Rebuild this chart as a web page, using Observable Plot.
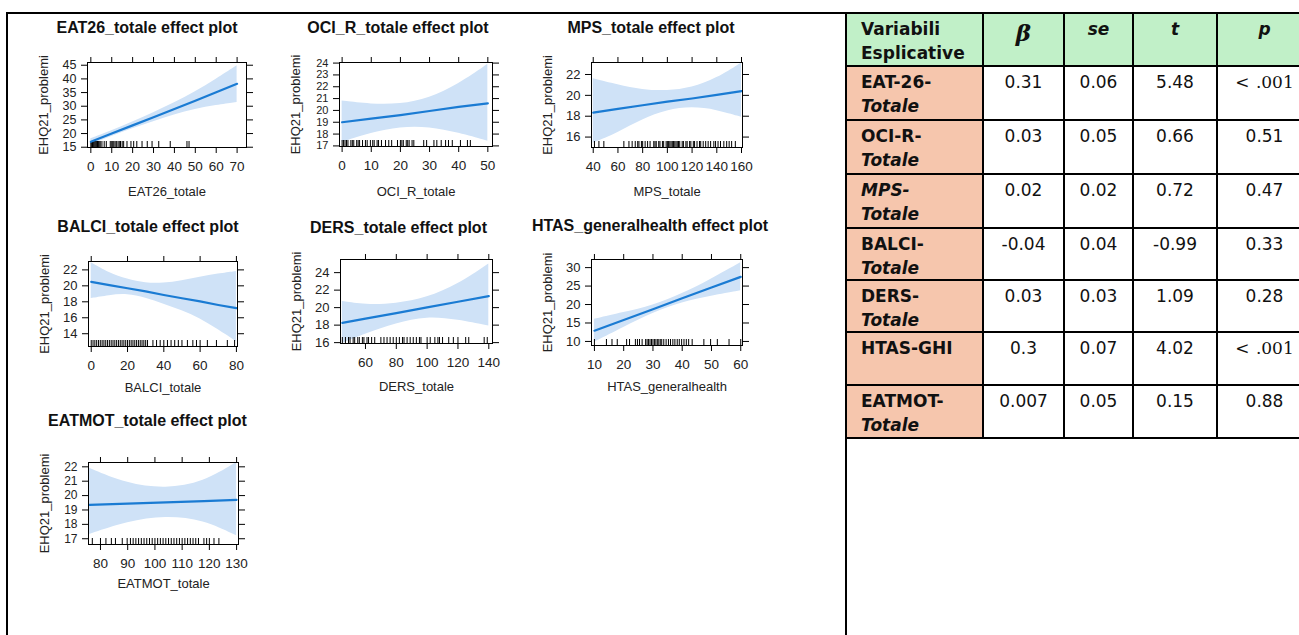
<!DOCTYPE html>
<html>
<head>
<meta charset="utf-8">
<script src="https://cdn.jsdelivr.net/npm/d3@7"></script>
<script src="https://cdn.jsdelivr.net/npm/@observablehq/plot@0.6"></script>
<style>
  html, body { margin: 0; padding: 0; background: #fff; }
  body { width: 1299px; height: 635px; overflow: hidden; position: relative; font-family: "Liberation Sans", Arial, sans-serif; }
  #frameTop { position: absolute; left: 6px; top: 12px; width: 1400px; height: 0; border-top: 2px solid #000; }
  #frameLeft { position: absolute; left: 6px; top: 12px; width: 0; height: 700px; border-left: 2px solid #000; }
  #frameMid { position: absolute; left: 845px; top: 12px; width: 0; height: 700px; border-left: 2px solid #000; }
  #tbl { position: absolute; left: 845px; top: 12px; border-collapse: collapse; table-layout: fixed; width: 466px;
         font-family: "DejaVu Sans", sans-serif; font-size: 17px; line-height: 24px; color: #111; }
  #tbl td { border: 2px solid #000; vertical-align: top; text-align: center; padding: 1px 0 0 0; overflow: hidden; }
  #tbl td > div { position: relative; top: 2px; }
  #tbl td.lab { text-align: left; padding-left: 14px; font-weight: bold; background: #f6c6ad; }
  #tbl tr.head td { background: #c1f0c8; font-weight: bold; }
  #tbl td.beta { font-family: "DejaVu Serif", serif; font-style: italic; font-size: 23px; padding-top: 5px; }
  #tbl td.it { font-style: italic; }
  .lt { font-family: "DejaVu Serif", serif; word-spacing: 1px; }
</style>
</head>
<body>
<div id="frameTop"></div>
<div id="frameLeft"></div>
<div id="frameMid"></div>
<table id="tbl"></table>
<script>
// ---------- Effect plot data ----------
const eatX   = [0, 10, 20, 30, 40, 50, 60, 70];
const eatFit = [17.0, 20.0, 23.0, 26.0, 29.0, 32.0, 35.1, 38.2];
const eatLo  = [15.9, 19.0, 21.8, 24.4, 26.8, 28.9, 30.3, 31.4];
const eatHi  = [18.1, 21.0, 24.2, 27.6, 31.2, 35.2, 39.8, 44.8];
const eatRug = [0, 0.4, 0.8, 1.2, 1.6, 2, 2.4, 2.8, 3.2, 3.6, 4, 4.5, 5.3, 6.4, 7.4, 9.3, 10, 10.5, 11, 11.6, 12.2, 13, 13.6, 14.2, 15, 15.7, 17.3, 19.2, 20.5, 22, 24.5, 27, 29.3, 32.5, 38, 46, 47];
const eatXTicks = [0, 10, 20, 30, 40, 50, 60, 70];
const eatYTicks = [15, 20, 25, 30, 35, 40, 45];

const ociX   = [0, 10, 20, 30, 40, 50];
const ociFit = [19.0, 19.3, 19.6, 19.95, 20.3, 20.6];
const ociLo  = [17.3, 18.1, 18.6, 18.6, 18.1, 17.4];
const ociHi  = [20.8, 20.5, 20.5, 21.0, 22.2, 23.9];
const ociRug = [0, 0.5, 1, 1.5, 2, 3, 3.5, 4, 5, 5.5, 6, 7, 8, 8.6, 9.7, 10.5, 11, 12, 12.5, 13.5, 14.9, 16, 17, 19, 20, 20.5, 21, 22, 22.5, 23, 24, 24.6, 28, 29, 31.5, 32.5, 34, 35.5, 36.5, 37.8, 40.6, 43, 44];
const ociXTicks = [0, 10, 20, 30, 40, 50];
const ociYTicks = [17, 18, 19, 20, 21, 22, 23, 24];

const mpsX   = [40, 60, 80, 100, 120, 140, 160];
const mpsFit = [18.35, 18.7, 19.05, 19.4, 19.7, 20.05, 20.4];
const mpsLo  = [15.4, 16.4, 17.7, 18.6, 18.9, 18.6, 17.9];
const mpsHi  = [21.6, 21.0, 20.5, 20.4, 20.7, 21.6, 23.1];
const mpsRug = [41, 44.6, 48.6, 64.8, 68.9, 71.5, 74, 76, 77, 79, 80, 82, 84, 86, 89, 90, 91, 93, 94, 96, 97, 99, 100, 101, 102, 103, 104, 105, 106, 107, 108, 109, 110, 112, 113, 115, 116, 118, 119, 121, 122, 124, 126, 127, 129, 131, 133, 135, 137.6, 139, 141, 143, 145.7, 148, 150, 152, 155];
const mpsXTicks = [40, 60, 80, 100, 120, 140, 160];
const mpsYTicks = [16, 18, 20, 22];

const balX   = [0, 10, 20, 30, 40, 50, 60, 70, 80];
const balFit = [20.5, 20.1, 19.7, 19.3, 18.85, 18.45, 18.05, 17.6, 17.2];
const balLo  = [18.4, 18.8, 19.0, 18.5, 17.7, 16.9, 15.9, 14.5, 13.0];
const balHi  = [22.9, 21.6, 20.8, 20.3, 20.3, 20.6, 21.1, 21.5, 21.8];
const balRug = [0, 1, 2, 3, 4, 5, 6, 7, 8, 9, 10, 11, 12, 13, 14, 15, 16, 17, 18, 19, 20, 21, 22, 23, 24, 25, 26, 27, 28, 29, 30, 31, 34, 36, 38, 40, 42, 44, 46, 48, 50, 53, 56, 58, 60, 64, 69, 75, 79];
const balXTicks = [0, 20, 40, 60, 80];
const balYTicks = [14, 16, 18, 20, 22];

const derX   = [45, 60, 80, 100, 120, 140];
const derFit = [18.26, 18.74, 19.38, 20.03, 20.67, 21.32];
const derLo  = [15.9, 17.0, 18.2, 19.0, 18.6, 17.9];
const derHi  = [20.7, 20.3, 20.4, 21.1, 22.6, 25.0];
const derRug = [45, 47, 49, 50, 52, 53, 55, 56, 58, 59, 61, 62, 64, 66, 70, 72, 74, 76, 78, 80, 82, 84, 85, 87, 89, 91, 93, 95, 96, 100, 102, 105, 107, 108, 110, 114, 117, 120, 125, 127, 137, 139];
const derXTicks = [60, 80, 100, 120, 140];
const derYTicks = [16, 18, 20, 22, 24];

const htaX   = [10, 20, 30, 40, 50, 60];
const htaFit = [12.9, 15.8, 18.7, 21.7, 24.6, 27.5];
const htaLo  = [9.8, 13.8, 17.8, 20.6, 22.3, 23.7];
const htaHi  = [16.0, 17.8, 19.7, 22.8, 26.9, 31.3];
const htaRug = [10, 14.1, 16, 17.8, 21, 22, 24, 24.7, 25.4, 26.3, 27.5, 28, 28.5, 29, 29.5, 30, 30.5, 31, 31.5, 32, 32.5, 33, 33.7, 34.5, 35.3, 36, 36.8, 37.5, 38.3, 39, 39.8, 40.6, 41.4, 42.2, 43.4, 47.4, 49.7, 52, 56, 60];
const htaXTicks = [10, 20, 30, 40, 50, 60];
const htaYTicks = [10, 15, 20, 25, 30];

const motX   = [76, 90, 104, 118, 130];
const motFit = [19.35, 19.44, 19.53, 19.62, 19.7];
const motLo  = [17.3, 18.2, 18.6, 18.3, 17.2];
const motHi  = [21.9, 20.8, 20.45, 20.9, 22.3];
const motRug = [77, 80, 82, 84, 85.5, 88, 89.8, 91, 92, 93, 94, 95, 96, 97, 98, 99, 100, 101, 102, 103, 104, 105, 106, 107, 108, 109, 110, 111, 112, 113, 114, 115, 116, 118, 119, 120, 121.7, 123.5];
const motXTicks = [80, 90, 100, 110, 120, 130];
const motYTicks = [17, 18, 19, 20, 21, 22];

// ---------- Table data ----------
const tableHeader = ["Variabili|Esplicative", "β", "se", "t", "p"];
const rowNames  = ["EAT-26-", "OCI-R-", "MPS-", "BALCI-", "DERS-", "HTAS-GHI", "EATMOT-"];
const rowSuffix = ["Totale", "Totale", "Totale", "Totale", "Totale", "", "Totale"];
const betas = ["0.31", "0.03", "0.02", "-0.04", "0.03", "0.3", "0.007"];
const ses   = ["0.06", "0.05", "0.02", "0.04", "0.03", "0.07", "0.05"];
const tvals = ["5.48", "0.66", "0.72", "-0.99", "1.09", "4.02", "0.15"];
const pvals = ["< .001", "0.51", "0.47", "0.33", "0.28", "< .001", "0.88"];

// ---------- Layout (panel boxes in page pixels) ----------
const plots = [
  {title: "EAT26_totale effect plot", xLabel: "EAT26_totale", x: eatX, fit: eatFit, lo: eatLo, hi: eatHi, rug: eatRug, xTicks: eatXTicks, yTicks: eatYTicks,
   xDomain: [-1.6, 74.5], yDomain: [14.9, 46.0], panel: [87, 62, 246, 147], tdx: -20, tdy: -35, ldy: 44, yfs: 12.5},
  {title: "OCI_R_totale effect plot", xLabel: "OCI_R_totale", x: ociX, fit: ociFit, lo: ociLo, hi: ociHi, rug: ociRug, xTicks: ociXTicks, yTicks: ociYTicks,
   xDomain: [-0.9, 51.6], yDomain: [16.95, 24.05], panel: [339, 62, 492, 146], tdx: -18, tdy: -35, ldy: 45, yfs: 11},
  {title: "MPS_totale effect plot", xLabel: "MPS_totale", x: mpsX, fit: mpsFit, lo: mpsLo, hi: mpsHi, rug: mpsRug, xTicks: mpsXTicks, yTicks: mpsYTicks,
   xDomain: [38.6, 160.8], yDomain: [15.0, 23.15], panel: [591, 62, 742, 147], tdx: -16, tdy: -35, ldy: 44, yfs: 13},
  {title: "BALCI_totale effect plot", xLabel: "BALCI_totale", x: balX, fit: balFit, lo: balLo, hi: balHi, rug: balRug, xTicks: balXTicks, yTicks: balYTicks,
   xDomain: [-1.5, 80.6], yDomain: [12.4, 23.05], panel: [88, 261, 237, 346], tdx: -15, tdy: -35, ldy: 41, yfs: 13},
  {title: "DERS_totale effect plot", xLabel: "DERS_totale", x: derX, fit: derFit, lo: derLo, hi: derHi, rug: derRug, xTicks: derXTicks, yTicks: derYTicks,
   xDomain: [43.8, 142.4], yDomain: [15.9, 25.5], panel: [340, 259, 492, 343], tdx: -18, tdy: -32, ldy: 43, yfs: 13},
  {title: "HTAS_generalhealth effect plot", xLabel: "HTAS_generalhealth", x: htaX, fit: htaFit, lo: htaLo, hi: htaHi, rug: htaRug, xTicks: htaXTicks, yTicks: htaYTicks,
   xDomain: [9.0, 60.6], yDomain: [8.9, 32.2], panel: [591, 259, 742, 345], tdx: -17, tdy: -34, ldy: 41, yfs: 13},
  {title: "EATMOT_totale effect plot", xLabel: "EATMOT_totale", x: motX, fit: motFit, lo: motLo, hi: motHi, rug: motRug, xTicks: motXTicks, yTicks: motYTicks,
   xDomain: [75.6, 130.7], yDomain: [16.6, 22.3], panel: [88, 462, 238, 544], tdx: -16, tdy: -42, ldy: 39, yfs: 12}
];

function effectPlot(c) {
  const mL = 80, mR = 30, mT = 60, mB = 60;
  const pw = c.panel[2] - c.panel[0], ph = c.panel[3] - c.panel[1];
  const band = c.x.map((x, i) => ({x, fit: c.fit[i], lo: c.lo[i], hi: c.hi[i]}));
  const svg = Plot.plot({
    width: pw + mL + mR, height: ph + mT + mB,
    marginLeft: mL, marginRight: mR, marginTop: mT, marginBottom: mB,
    style: {background: "none", overflow: "visible", fontFamily: "'Liberation Sans', Arial, sans-serif", fontSize: "13.5px", color: "#222"},
    x: {domain: c.xDomain},
    y: {domain: c.yDomain},
    marks: [
      Plot.areaY(band, {x: "x", y1: "lo", y2: "hi", fill: "#cfe2f7", curve: "basis"}),
      Plot.ruleX(c.rug, {x: d => d, insetTop: ph - 6, stroke: "#000", strokeWidth: 1}),
      Plot.lineY(band, {x: "x", y: "fit", stroke: "#1a7bd3", strokeWidth: 2.2}),
      Plot.frame({stroke: "#000", strokeWidth: 1}),
      Plot.axisX({anchor: "bottom", ticks: c.xTicks, tickSize: 6, tickPadding: 8, tickFormat: d => String(d), label: null, stroke: "#000"}),
      Plot.axisX({anchor: "top", ticks: c.xTicks, tickSize: 6, tickFormat: () => "", label: null, stroke: "#000"}),
      Plot.axisY({anchor: "left", ticks: c.yTicks, tickSize: 6, tickPadding: 5, tickFormat: d => String(d), label: null, stroke: "#000", fontSize: c.yfs}),
      Plot.axisY({anchor: "right", ticks: c.yTicks, tickSize: 6, tickFormat: () => "", label: null, stroke: "#000"}),
      Plot.text([c.title], {text: d => d, frameAnchor: "top", lineAnchor: "middle", dx: c.tdx, dy: c.tdy, fontWeight: "bold", fontSize: 16, fill: "#111"}),
      Plot.text([c.xLabel], {text: d => d, frameAnchor: "bottom", lineAnchor: "middle", dy: c.ldy, fontSize: 13, fill: "#222"}),
      Plot.text(["EHQ21_problemi"], {text: d => d, frameAnchor: "left", textAnchor: "middle", lineAnchor: "middle", dx: -44, rotate: -90, fontSize: 13, fill: "#222"})
    ]
  });
  svg.style.position = "absolute";
  svg.style.left = (c.panel[0] - mL) + "px";
  svg.style.top = (c.panel[1] - mT) + "px";
  document.body.appendChild(svg);
}
plots.forEach(effectPlot);

// ---------- Table ----------
const colW = [137, 81, 69, 84, 95];
const rowH = [53, 54, 54, 54, 52, 52, 53, 53];
const tbl = document.getElementById("tbl");
const cg = document.createElement("colgroup");
colW.forEach(w => { const c = document.createElement("col"); c.style.width = w + "px"; cg.appendChild(c); });
tbl.appendChild(cg);
function cell(cls) { const td = document.createElement("td"); if (cls) td.className = cls; const d = document.createElement("div"); td.appendChild(d); return [td, d]; }
const hr = document.createElement("tr");
hr.className = "head"; hr.style.height = rowH[0] + "px";
tableHeader.forEach((h, i) => {
  const [td, d] = cell(i === 0 ? "lab" : i === 1 ? "beta" : "it");
  if (i === 0) { td.style.background = "#c1f0c8"; d.innerHTML = h.split("|").join("<br>"); }
  else d.textContent = h;
  hr.appendChild(td);
});
tbl.appendChild(hr);
rowNames.forEach((name, i) => {
  const tr = document.createElement("tr");
  tr.style.height = rowH[i + 1] + "px";
  const [lab, d] = cell("lab");
  const first = document.createElement("span");
  first.textContent = name;
  if (name === "MPS-") first.style.fontStyle = "italic";
  d.appendChild(first);
  if (rowSuffix[i]) {
    d.appendChild(document.createElement("br"));
    const s = document.createElement("i"); s.textContent = rowSuffix[i]; d.appendChild(s);
  }
  tr.appendChild(lab);
  [betas[i], ses[i], tvals[i], pvals[i]].forEach(v => {
    const [td, dv] = cell(v.startsWith("<") ? "lt" : "");
    dv.textContent = v;
    tr.appendChild(td);
  });
  tbl.appendChild(tr);
});
</script>
</body>
</html>
